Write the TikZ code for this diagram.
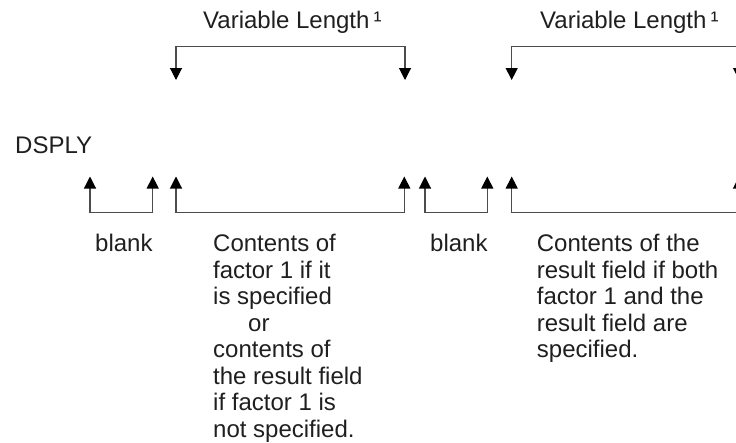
\documentclass[tikz,border=0pt]{standalone}
\usepackage{fontspec}
\setmainfont{Liberation Sans}
\usetikzlibrary{arrows.meta}
\definecolor{ink}{gray}{0.12}
\definecolor{linec}{gray}{0.3}
\begin{document}
\begin{tikzpicture}[x=1pt,y=-1pt,
  tip/.tip={Triangle[width=12pt,length=12pt,color=black]},
  br/.style={draw=linec, line width=1.1pt, tip-tip},
  lbl/.style={inner sep=0pt, anchor=base west, text=ink, font=\fontsize{24}{26.5}\selectfont, align=left}]
\useasboundingbox (0,0) rectangle (736,442);
\clip (0,0) rectangle (736,442);
% top brackets
\coordinate (t1a) at (176,80);
\coordinate (t1b) at (405,80);
\coordinate (t2a) at (511.7,80);
\coordinate (t2b) at (739,80);
\draw[br] (t1a) -- ++(0,-33.3) -| (t1b);
\draw[br] (t2a) -- ++(0,-33.3) -| (t2b);
% bottom brackets
\coordinate (b1a) at (90,176.5);
\coordinate (b1b) at (152.7,176.5);
\coordinate (b2a) at (176,176.5);
\coordinate (b2b) at (404.3,176.5);
\coordinate (b3a) at (425,176.5);
\coordinate (b3b) at (487.3,176.5);
\coordinate (b4a) at (511.7,176.5);
\coordinate (b4b) at (739,176.5);
\draw[br] (b1a) -- ++(0,36) -| (b1b);
\draw[br] (b2a) -- ++(0,36) -| (b2b);
\draw[br] (b3a) -- ++(0,36) -| (b3b);
\draw[br] (b4a) -- ++(0,36) -| (b4b);
% labels (multi-line nodes: base = last line)
\node[lbl] (vl1) at (203,28) {Variable Length\,¹};
\node[lbl] (vl2) at (540,28) {Variable Length\,¹};
\node[lbl] (ds) at (15,153) {DSPLY};
\node[lbl] (bl1) at (95,251.7) {blank};
\node[lbl] (bl2) at (430,251.7) {blank};
\node[lbl] (c1) at (213,437.2) {Contents of\\factor 1 if it\\is specified\\\hspace*{35pt}or\\contents of\\the result field\\if factor 1 is\\not specified.};
\node[lbl] (c2) at (536.7,357.7) {Contents of the\\result field if both\\factor 1 and the\\result field are\\specified.};
\end{tikzpicture}
\end{document}
